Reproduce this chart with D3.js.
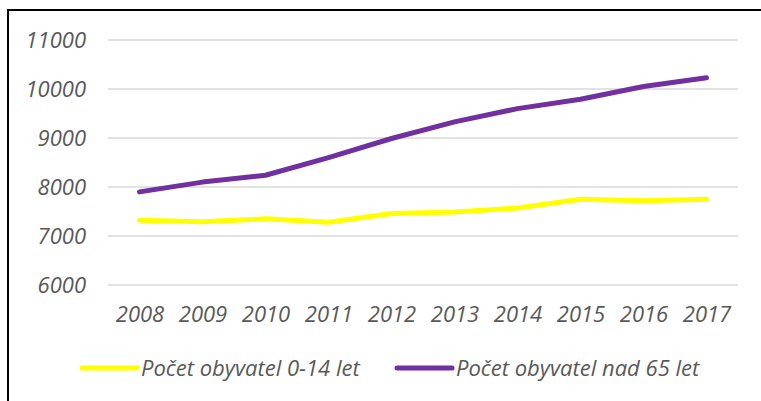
<!DOCTYPE html>
<html>
<head>
<meta charset="utf-8">
<script src="https://cdn.jsdelivr.net/npm/d3@7"></script>
<style>
body { margin: 0; background: #fff; }
text { font-family: "Open Sans", sans-serif; font-style: italic; fill: #595959; }
</style>
</head>
<body>
<svg id="chart"></svg>
<script>
const years = ["2008", "2009", "2010", "2011", "2012", "2013", "2014", "2015", "2016", "2017"];
const kids = [7320, 7290, 7350, 7280, 7460, 7490, 7570, 7750, 7720, 7750];
const seniors = [7900, 8100, 8240, 8600, 8990, 9330, 9600, 9790, 10050, 10230];
const yTicks = [6000, 7000, 8000, 9000, 10000, 11000];
const seriesNames = ["Počet obyvatel 0-14 let", "Počet obyvatel nad 65 let"];
const seriesColors = ["#ffff00", "#7030a0"];

const width = 761, height = 401;
const margin = {top: 40, right: 23, bottom: 116, left: 108};
const fontSize = "22px";

const svg = d3.select("#chart")
  .attr("width", width)
  .attr("height", height);

// outer frame (top + left edges only visible)
svg.append("path")
  .attr("d", `M8,${height} L8,10 L${width},10`)
  .attr("fill", "none")
  .attr("stroke", "#000")
  .attr("stroke-width", 2);

let x = d3.scalePoint()
  .domain(years)
  .range([margin.left, width - margin.right])
  .padding(0.5);

let y = d3.scaleLinear()
  .domain([6000, 11000])
  .range([height - margin.bottom, margin.top]);

// gridlines
svg.selectAll("line.grid")
  .data(yTicks)
  .enter()
  .append("line")
  .attr("class", "grid")
  .attr("x1", margin.left)
  .attr("x2", width - margin.right)
  .attr("y1", d => y(d))
  .attr("y2", d => y(d))
  .attr("stroke", "#d9d9d9")
  .attr("stroke-width", 1.5);

let yAxis = d3.axisLeft(y)
  .tickValues(yTicks)
  .tickSize(0)
  .tickPadding(22)
  .tickFormat(d => d);

svg.append("g")
  .attr("transform", `translate(${margin.left},0)`)
  .call(yAxis)
  .call(g => g.select(".domain").remove())
  .selectAll("text")
  .style("font-size", fontSize)
  .style("font-family", null);

let xAxis = d3.axisBottom(x)
  .tickSize(0)
  .tickPadding(0);

svg.append("g")
  .attr("transform", `translate(0,${y(6000) + 21})`)
  .call(xAxis)
  .call(g => g.select(".domain").remove())
  .selectAll("text")
  .style("font-size", fontSize)
  .style("font-family", null);

let line = d3.line()
  .x((d, i) => x(years[i]))
  .y(d => y(d));

[kids, seniors].forEach((s, i) => {
  svg.append("path")
    .datum(s)
    .attr("fill", "none")
    .attr("stroke", seriesColors[i])
    .attr("stroke-width", 5)
    .attr("stroke-linecap", "round")
    .attr("stroke-linejoin", "round")
    .attr("d", line);
});

// legend
const legendX = [82, 397];
const legendY = 368;
seriesNames.forEach((name, i) => {
  svg.append("line")
    .attr("x1", legendX[i])
    .attr("x2", legendX[i] + 55)
    .attr("y1", legendY)
    .attr("y2", legendY)
    .attr("stroke", seriesColors[i])
    .attr("stroke-width", 5)
    .attr("stroke-linecap", "round");
  svg.append("text")
    .attr("x", legendX[i] + 59)
    .attr("y", legendY)
    .attr("dy", "0.35em")
    .style("font-size", fontSize)
    .text(name);
});
</script>
</body>
</html>
